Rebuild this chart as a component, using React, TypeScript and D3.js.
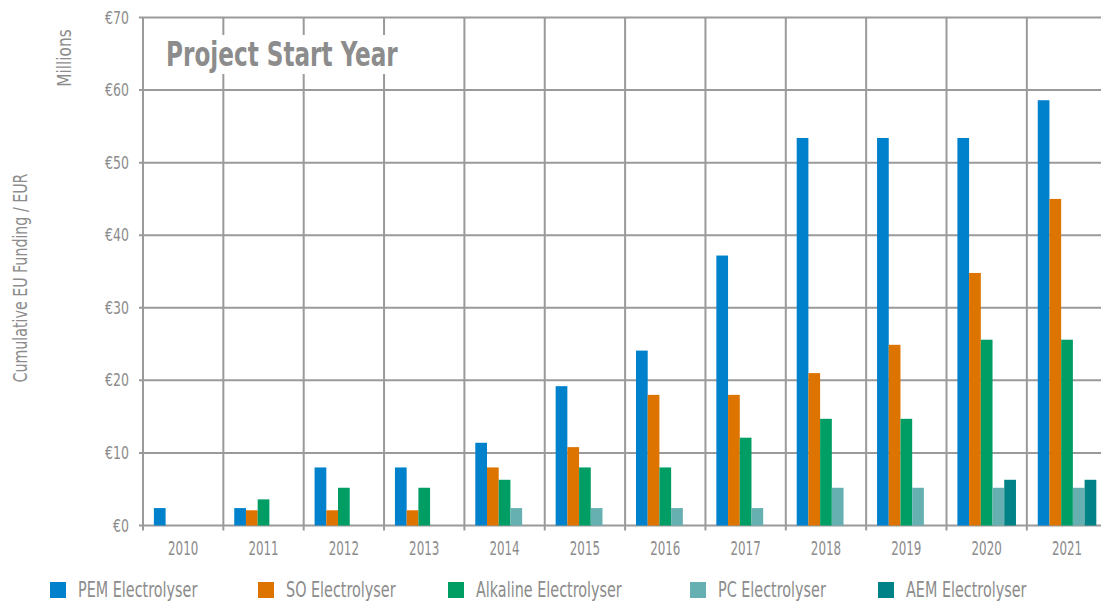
import { useEffect, useRef } from "react";
import * as d3 from "d3";

// data (values in millions EUR)
const years = ["2010", "2011", "2012", "2013", "2014", "2015", "2016", "2017", "2018", "2019", "2020", "2021"];
const seriesNames = ["PEM Electrolyser", "SO Electrolyser", "Alkaline Electrolyser", "PC Electrolyser", "AEM Electrolyser"];
const seriesColors = ["#0081cc", "#de7400", "#009e65", "#66b0b2", "#008286"];

const pem = [2.4, 2.4, 8.0, 8.0, 11.4, 19.2, 24.1, 37.2, 53.4, 53.4, 53.4, 58.6];
const so = [0, 2.1, 2.1, 2.1, 8.0, 10.8, 18.0, 18.0, 21.0, 24.9, 34.8, 45.0];
const alkaline = [0, 3.6, 5.2, 5.2, 6.3, 8.0, 8.0, 12.1, 14.7, 14.7, 25.6, 25.6];
const pc = [0, 0, 0, 0, 2.4, 2.4, 2.4, 2.4, 5.2, 5.2, 5.2, 5.2];
const aem = [0, 0, 0, 0, 0, 0, 0, 0, 0, 0, 6.3, 6.3];

const yTicks = [0, 10, 20, 30, 40, 50, 60, 70];

const FONT = "'DejaVu Sans Condensed', 'DejaVu Sans', sans-serif";
const TEXT = "#8c8c8c";
const GRID = "#9a9a9a";

export default function App() {
  const ref = useRef<SVGSVGElement | null>(null);

  useEffect(() => {
    const width = 1101;
    const height = 602;
    const left = 143;
    const step = 80.35;

    const svg = d3.select(ref.current);
    svg.selectAll("*").remove();

    // condensed text: the DIN-like font of the original is narrower than anything installed
    function label(parent: any, x: number, y: number, txt: string, size: number, sx: number, anchor = "start", rotate = 0, weight = "normal") {
      parent.append("text")
        .attr("transform", `translate(${x},${y}) rotate(${rotate}) scale(${sx},1)`)
        .attr("text-anchor", anchor)
        .attr("font-family", FONT)
        .attr("font-size", size)
        .attr("font-weight", weight)
        .attr("fill", TEXT)
        .text(txt);
    }

    const values = [pem, so, alkaline, pc, aem];
    const rows = years.map((yr, i) => ({
      year: yr,
      vals: seriesNames.map((s, k) => ({ key: s, value: values[k][i], color: seriesColors[k] })),
    }));

    const x0 = d3.scaleBand().domain(years).range([left, left + step * years.length]);
    const x1 = d3.scaleBand().domain(seriesNames).range([0, x0.bandwidth()]).paddingOuter(0.93);
    const y = d3.scaleLinear().domain([0, 70]).range([525.5, 17.5]);

    // horizontal grid
    svg.append("g")
      .selectAll("line")
      .data(yTicks)
      .join("line")
        .attr("x1", left - 4)
        .attr("x2", width)
        .attr("y1", d => y(d))
        .attr("y2", d => y(d))
        .attr("stroke", GRID)
        .attr("stroke-width", 2);

    // vertical grid at category boundaries (extends under the axis as ticks)
    svg.append("g")
      .selectAll("line")
      .data(years)
      .join("line")
        .attr("x1", d => x0(d)! + step)
        .attr("x2", d => x0(d)! + step)
        .attr("y1", y(70))
        .attr("y2", y(0) + 5)
        .attr("stroke", GRID)
        .attr("stroke-width", 2);

    // left axis line
    svg.append("line")
      .attr("x1", left).attr("x2", left)
      .attr("y1", y(70)).attr("y2", y(0) + 5)
      .attr("stroke", GRID).attr("stroke-width", 2);

    // title box + title
    svg.append("rect")
      .attr("x", 160).attr("y", 35).attr("width", 245).attr("height", 39)
      .attr("fill", "white");
    label(svg, 166, 66, "Project Start Year", 33, 0.78, "start", 0, "bold");

    // bars
    svg.append("g")
      .selectAll("g")
      .data(rows)
      .join("g")
        .attr("transform", d => `translate(${x0(d.year)},0)`)
      .selectAll("rect")
      .data(d => d.vals.filter(v => v.value > 0))
      .join("rect")
        .attr("x", d => x1(d.key)!)
        .attr("width", x1.bandwidth())
        .attr("y", d => y(d.value))
        .attr("height", d => y(0) - y(d.value))
        .attr("fill", d => d.color);

    // y tick labels
    const yl = svg.append("g");
    yTicks.forEach(t => label(yl, 129, y(t) + 6, `€${t}`, 17, 0.82, "end"));

    // x labels
    const xl = svg.append("g");
    years.forEach(yr => label(xl, x0(yr)! + step / 2, 555, yr, 20, 0.66, "middle"));

    // axis titles
    label(svg, 27, 278, "Cumulative EU Funding / EUR", 20, 0.79, "middle", -90);
    label(svg, 71, 58, "Millions", 19, 0.9, "middle", -90);

    // legend
    const legendX = [50, 258, 448, 690, 878];
    const legend = svg.append("g");
    seriesNames.forEach((s, i) => {
      legend.append("rect")
        .attr("x", legendX[i]).attr("y", 582)
        .attr("width", 16).attr("height", 16)
        .attr("fill", seriesColors[i]);
      label(legend, legendX[i] + 28, 597, s, 20.5, 0.78);
    });

    svg.attr("width", width).attr("height", height);
  }, []);

  return (
    <svg ref={ref} width={1101} height={602} style={{ position: "absolute", left: 0, top: 0, background: "white" }} />
  );
}
